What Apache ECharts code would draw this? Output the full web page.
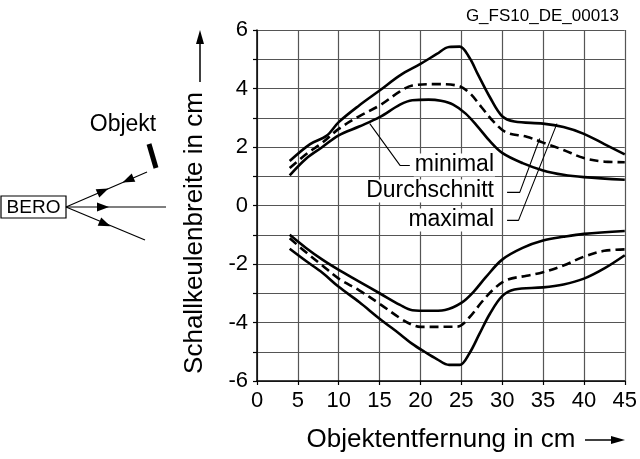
<!DOCTYPE html>
<html>
<head>
<meta charset="utf-8">
<script src="https://cdn.jsdelivr.net/npm/echarts@6/dist/echarts.min.js"></script>
<style>
html,body{margin:0;padding:0;background:#fff;}
#chart{width:640px;height:459px;}
</style>
</head>
<body>
<div id="chart"></div>
<script>
// ---- data ----
const chartTitle = 'G_FS10_DE_00013';
const xAxisName = 'Objektentfernung in cm';
const yAxisName = 'Schallkeulenbreite in cm';
const xTicks = [0, 5, 10, 15, 20, 25, 30, 35, 40, 45];
const yTicks = [-6, -4, -2, 0, 2, 4, 6];

const maxUpper = [[4,1.52],[6.5,2.1],[8.5,2.38],[10,2.85],[12.5,3.42],[15,3.93],[17.5,4.45],[20,4.84],[22,5.18],[23.5,5.42],[24.8,5.43],[26,5.05],[27,4.5],[28.5,3.7],[30,3.05],[31.5,2.87],[35,2.8],[37.5,2.68],[40,2.45],[42.5,2.1],[45,1.75]];
const avgUpper = [[4,1.28],[6,1.75],[8,2.15],[10,2.62],[12.5,3.05],[15,3.42],[17.5,3.9],[19,4.1],[22,4.15],[24.5,4.1],[26,3.85],[27.5,3.35],[29,2.85],[30.5,2.5],[33,2.35],[35,2.15],[37.5,1.9],[40,1.62],[42.5,1.5],[45,1.48]];
const minUpper = [[4,1.03],[6,1.6],[8,2.0],[10,2.4],[12.5,2.7],[15,3.02],[17.5,3.45],[19,3.6],[21,3.62],[22.5,3.58],[24,3.45],[25.5,3.15],[27,2.7],[28.5,2.2],[30,1.8],[32.5,1.45],[35,1.2],[37.5,1.05],[40,0.97],[45,0.88]];
const minLower = [[4,-1.0],[6,-1.45],[8,-1.85],[10,-2.2],[12.5,-2.6],[15,-3.0],[17.5,-3.4],[19,-3.58],[21,-3.6],[23,-3.57],[25,-3.33],[26.5,-2.95],[28,-2.45],[30,-1.85],[32.5,-1.45],[35,-1.2],[37.5,-1.07],[40,-0.97],[45,-0.87]];
const avgLower = [[4,-1.12],[6,-1.6],[8,-2.05],[10,-2.5],[12.5,-2.9],[15,-3.36],[17.5,-3.85],[19,-4.08],[20,-4.15],[24.5,-4.14],[26,-3.82],[27.5,-3.3],[29,-2.85],[30.5,-2.55],[33,-2.4],[35,-2.28],[37.5,-2.05],[40,-1.75],[42.5,-1.55],[45,-1.5]];
const maxLower = [[4,-1.48],[6,-1.9],[8,-2.3],[10,-2.78],[12.5,-3.3],[15,-3.87],[17.5,-4.4],[19,-4.73],[20.5,-5.0],[22,-5.25],[23.5,-5.45],[24.8,-5.45],[26,-5.05],[27.2,-4.4],[28.5,-3.7],[30,-3.1],[31.5,-2.87],[35,-2.8],[37.5,-2.7],[40,-2.5],[42.5,-2.15],[45,-1.7]];

const labelNames = ['minimal', 'Durchschnitt', 'maximal'];
const leaderMin = [[13.8,2.8],[17.5,1.37],[18.7,1.37]];
const leaderAvg = [[34.6,2.29],[32.15,0.45],[30.6,0.45]];
const leaderMax = [[36.7,2.8],[32.0,-0.51],[30.6,-0.51]];

// ---- chart ----
const FONT = '"Liberation Sans", Arial, Helvetica, sans-serif';
const chart = echarts.init(document.getElementById('chart'), null, {renderer: 'canvas'});

function curve(data, dashed) {
  return {
    type: 'line', data: data, smooth: 0.35, showSymbol: false, symbol: 'none',
    lineStyle: {color: '#000', width: 2.6, type: dashed ? [9, 5] : 'solid'},
    z: 3, silent: true
  };
}
function leader(data) {
  return {
    type: 'line', data: data, smooth: false, showSymbol: false, symbol: 'none',
    lineStyle: {color: '#000', width: 1.1}, z: 4, silent: true
  };
}
function arrowHead(px, py, dx, dy, len, half) {
  const l = Math.hypot(dx, dy); dx /= l; dy /= l;
  const nx = -dy, ny = dx;
  return [[px + dx * len / 2, py + dy * len / 2],
          [px - dx * len / 2 + nx * half, py - dy * len / 2 + ny * half],
          [px - dx * len / 2 - nx * half, py - dy * len / 2 - ny * half]];
}
function tri(points) {
  return {type: 'polygon', shape: {points: points}, style: {fill: '#000'}, z: 50};
}
function seg(x1, y1, x2, y2, w) {
  return {type: 'line', shape: {x1, y1, x2, y2}, style: {stroke: '#000', lineWidth: w || 1.2}, z: 50};
}
function txt(text, x, y, size, align, bg) {
  const style = {text: text, x: x, y: y, fill: '#000', font: size + 'px ' + FONT,
    align: align || 'center', verticalAlign: 'middle'};
  if (bg) { style.backgroundColor = '#fff'; style.padding = [0, 1]; }
  return {type: 'text', style: style, z: 60};
}

const option = {
  backgroundColor: '#fff',
  animation: false,
  title: {
    text: chartTitle, right: 16, top: 3,
    textStyle: {fontFamily: FONT, fontSize: 17, fontWeight: 'normal', color: '#000'}
  },
  grid: {left: 257, right: 15, top: 30, bottom: 78, containLabel: false},
  xAxis: {
    type: 'value', min: xTicks[0], max: xTicks[xTicks.length - 1], interval: 5,
    axisLine: {onZero: false, lineStyle: {color: '#000', width: 1.5}},
    axisTick: {show: true, length: 4, lineStyle: {color: '#000', width: 1.2}},
    axisLabel: {color: '#000', fontFamily: FONT, fontSize: 22, margin: 9},
    splitLine: {show: true, lineStyle: {color: '#555', width: 1.2}}
  },
  yAxis: {
    type: 'value', min: yTicks[0], max: yTicks[yTicks.length - 1], interval: 1,
    axisLine: {onZero: false, lineStyle: {color: '#000', width: 1.5}},
    axisTick: {show: true, length: 4, lineStyle: {color: '#000', width: 1.2}},
    axisLabel: {color: '#000', fontFamily: FONT, fontSize: 22, margin: 9,
      formatter: v => (yTicks.indexOf(v) >= 0 ? String(v) : '')},
    splitLine: {show: true, lineStyle: {color: '#555', width: 1.2}}
  },
  series: [
    curve(maxUpper, false), curve(avgUpper, true), curve(minUpper, false),
    curve(minLower, false), curve(avgLower, true), curve(maxLower, false),
    leader(leaderMin), leader(leaderAvg), leader(leaderMax)
  ]
};
chart.setOption(option);

// annotation labels and side graphics
const g = [];
g.push(txt(labelNames[0], 495, 165, 23, 'right', true));
g.push(txt(labelNames[1], 495, 191, 23, 'right', true));
g.push(txt(labelNames[2], 495, 220, 23, 'right', true));

// axis names with arrows
g.push(txt(xAxisName, 441, 440, 26, 'center', false));
g.push(seg(585, 440, 612, 440, 1.5));
g.push(tri(arrowHead(618, 440, 1, 0, 14, 4)));
const yName = txt(yAxisName, 0, 0, 26, 'center', false);
yName.x = 195; yName.y = 233; yName.rotation = Math.PI / 2;
g.push(yName);
g.push(seg(200, 82, 200, 42, 1.5));
g.push(tri(arrowHead(200, 37, 0, -1, 14, 4)));

// sensor sketch
g.push({type: 'rect', shape: {x: 1, y: 196, width: 65, height: 22}, style: {fill: '#fff', stroke: '#000', lineWidth: 1.2}, z: 50});
g.push(txt('BERO', 33.5, 207.5, 19, 'center', false));
g.push(seg(66, 207, 147, 172));
g.push(seg(66, 207, 166, 207));
g.push(seg(66, 207, 145, 240));
g.push(tri(arrowHead(103, 191, 80, -35, 12, 4.5)));
g.push(tri(arrowHead(128, 180, -80, 35, 12, 4.5)));
g.push(tri(arrowHead(103, 207, 1, 0, 12, 4.5)));
g.push(tri(arrowHead(105, 224, 78, 33, 12, 4.5)));
g.push(seg(149, 144, 156, 168, 5));
g.push(txt('Objekt', 123, 125, 23, 'center', false));

chart.setOption({graphic: g});
</script>
</body>
</html>
